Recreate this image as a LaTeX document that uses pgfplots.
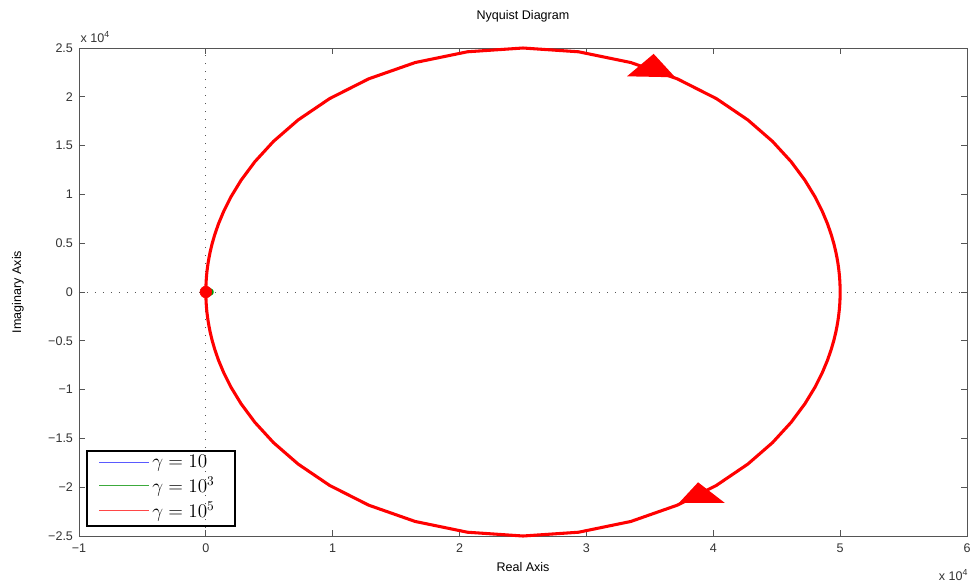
\documentclass[border=0pt]{standalone}
\usepackage{pgfplots}
\usepackage{pgfplotstable}
\pgfplotsset{compat=1.18}
\usepackage{fontspec}
\setmainfont{Liberation Sans}

\definecolor{axgray}{RGB}{85,85,85}
\definecolor{lgblue}{RGB}{90,90,255}
\definecolor{lggreen}{RGB}{60,170,60}
\definecolor{lgred}{RGB}{255,70,70}

% Nyquist curve for gamma = 1e5 (units of 1e4), negative frequencies: origin -> (5,0)
\pgfplotstableread{
x y
0.0000 0.0000
0.0000 0.0050
0.0001 0.0244
0.0005 0.0502
0.0010 0.0711
0.0015 0.0851
0.0021 0.1016
0.0029 0.1213
0.0042 0.1448
0.0060 0.1727
0.0085 0.2057
0.0121 0.2457
0.0172 0.2930
0.0245 0.3492
0.0349 0.4161
0.0495 0.4950
0.0702 0.5883
0.0995 0.6983
0.1407 0.8267
0.1981 0.9753
0.2777 1.1450
0.3863 1.3351
0.5330 1.5431
0.7270 1.7625
0.9753 1.9813
1.2836 2.1841
1.6499 2.3510
2.0616 2.4612
2.5000 2.5000
2.9384 2.4612
3.3501 2.3510
3.7164 2.1841
4.0247 1.9813
4.2730 1.7625
4.4670 1.5431
4.6137 1.3351
4.7223 1.1450
4.8019 0.9753
4.8593 0.8267
4.9005 0.6983
4.9298 0.5883
4.9505 0.4950
4.9651 0.4161
4.9755 0.3492
4.9828 0.2930
4.9879 0.2457
4.9915 0.2057
4.9940 0.1727
4.9958 0.1448
4.9971 0.1213
4.9979 0.1016
4.9985 0.0851
4.9990 0.0711
4.9995 0.0502
4.9999 0.0244
5.0000 0.0000
}\negfreq

% positive frequencies: (5,0) -> origin through the lower half
\pgfplotstableread{
x y
5.0000 0.0000
4.9999 -0.0244
4.9995 -0.0502
4.9990 -0.0711
4.9985 -0.0851
4.9979 -0.1016
4.9971 -0.1213
4.9958 -0.1448
4.9940 -0.1727
4.9915 -0.2057
4.9879 -0.2457
4.9828 -0.2930
4.9755 -0.3492
4.9651 -0.4161
4.9505 -0.4950
4.9298 -0.5883
4.9005 -0.6983
4.8593 -0.8267
4.8019 -0.9753
4.7223 -1.1450
4.6137 -1.3351
4.4670 -1.5431
4.2730 -1.7625
4.0247 -1.9813
3.7164 -2.1841
3.3501 -2.3510
2.9384 -2.4612
2.5000 -2.5000
2.0616 -2.4612
1.6499 -2.3510
1.2836 -2.1841
0.9753 -1.9813
0.7270 -1.7625
0.5330 -1.5431
0.3863 -1.3351
0.2777 -1.1450
0.1981 -0.9753
0.1407 -0.8267
0.0995 -0.6983
0.0702 -0.5883
0.0495 -0.4950
0.0349 -0.4161
0.0245 -0.3492
0.0172 -0.2930
0.0121 -0.2457
0.0085 -0.2057
0.0060 -0.1727
0.0042 -0.1448
0.0029 -0.1213
0.0021 -0.1016
0.0015 -0.0851
0.0010 -0.0711
0.0005 -0.0502
0.0001 -0.0244
0.0000 -0.0050
0.0000 0.0000
}\posfreq

\begin{document}
\begin{tikzpicture}
\begin{axis}[
  scale only axis,
  width=666pt, height=366pt,
  xmin=-1, xmax=6, ymin=-2.5, ymax=2.5,
  xtick={-1,0,...,6},
  xticklabels={−1,0,1,2,3,4,5,6},
  ytick={-2.5,-2,...,2.5},
  yticklabels={−2.5,−2,−1.5,−1,−0.5,0,0.5,1,1.5,2,2.5},
  tick align=inside,
  major tick length=4.5pt,
  xtick pos=both, ytick pos=both,
  axis line style={axgray, line width=0.6pt},
  tick style={axgray, line width=0.6pt},
  tick label style={font=\fontsize{9.4}{11}\selectfont, text=black!80},
  xticklabel style={yshift=-2pt},
  yticklabel style={xshift=-1pt},
  title={Nyquist Diagram},
  title style={font=\fontsize{9.4}{11}\selectfont, yshift=10pt},
  xlabel={Real Axis},
  ylabel={Imaginary Axis},
  label style={font=\fontsize{9.4}{11}\selectfont},
  xlabel style={yshift=-1pt},
  ylabel style={yshift=11.5pt},
  legend style={at={(rel axis cs:0,0)}, anchor=south west,
    xshift=6pt, yshift=7.5pt, draw=none, fill=none,
    font=\fontsize{14}{16}\selectfont, inner xsep=8.5pt, inner ysep=3pt,
    row sep=1.5pt},
  legend cell align=left,
  clip=false,
]
% zero reference lines
\addplot[forget plot, axgray, line width=0.7pt, dash pattern=on 0.7pt off 5.3pt] coordinates {(-1,0) (6,0)};
\addplot[forget plot, axgray, line width=0.7pt, dash pattern=on 0.7pt off 5.3pt] coordinates {(0,-2.5) (0,2.5)};

% legend entries (thin swatches)
\addlegendimage{legend image code/.code={\draw[draw=lgblue, line width=0.8pt] (0pt,0pt) -- (37.5pt,0pt);}}
\addlegendentry{$\gamma = 10$}
\addlegendimage{legend image code/.code={\draw[draw=lggreen, line width=0.8pt] (0pt,0pt) -- (37.5pt,0pt);}}
\addlegendentry{$\gamma = 10^3$}
\addlegendimage{legend image code/.code={\draw[draw=lgred, line width=0.8pt] (0pt,0pt) -- (37.5pt,0pt);}}
\addlegendentry{$\gamma = 10^5$}

% gamma = 10
\addplot[forget plot, blue, line width=2.2pt] coordinates {
(0,0) (0.00000125,0.0000217) (0.0000025,0.000025) (0.00000375,0.0000217) (0.000005,0)
(0.00000375,-0.0000217) (0.0000025,-0.000025) (0.00000125,-0.0000217) (0,0)};
% gamma = 1e3
\addplot[forget plot, green!60!black, line width=2.2pt] coordinates {
(0,0) (0.0007,0.0059) (0.0028,0.0115) (0.0073,0.0176) (0.0128,0.0218) (0.0206,0.0246)
(0.025,0.025) (0.0294,0.0246) (0.0372,0.0218) (0.0427,0.0176) (0.0472,0.0115) (0.0493,0.0059)
(0.05,0) (0.0493,-0.0059) (0.0472,-0.0115) (0.0427,-0.0176) (0.0372,-0.0218) (0.0294,-0.0246)
(0.025,-0.025) (0.0206,-0.0246) (0.0128,-0.0218) (0.0073,-0.0176) (0.0028,-0.0115) (0.0007,-0.0059) (0,0)};
% gamma = 1e5
\addplot[forget plot, red, line width=2.3pt, line join=round] table {\negfreq};
\addplot[forget plot, red, line width=2.3pt, line join=round] table {\posfreq};
% direction arrows
\addplot[forget plot, fill=red, draw=none] coordinates {(3.53,2.44) (3.32,2.21) (3.70,2.20)} --cycle;
\addplot[forget plot, fill=red, draw=none] coordinates {(3.88,-1.95) (3.73,-2.16) (4.09,-2.16)} --cycle;
% critical point marker
\addplot[forget plot, only marks, mark=*, red, mark size=4.4pt] coordinates {(0,0)};

% legend frame
\draw[black, line width=0.9pt] (axis cs:-0.937,-2.398) rectangle (axis cs:0.229,-1.629);

% axis multipliers
\node[anchor=south west, font=\fontsize{9.4}{11}\selectfont, text=black!80, inner sep=0pt]
  at (rel axis cs:0,1) [yshift=4pt, xshift=1pt] {x 10\textsuperscript{4}};
\node[anchor=north east, font=\fontsize{9.4}{11}\selectfont, text=black!80, inner sep=0pt]
  at (rel axis cs:1,0) [yshift=-25pt, xshift=1pt] {x 10\textsuperscript{4}};
\coordinate (boxsw) at (rel axis cs:0,0);
\end{axis}
\pgfresetboundingbox
\path (boxsw) ++(-59.25pt,-38.25pt) rectangle ++(728.25pt,440.25pt);
\end{tikzpicture}
\end{document}
